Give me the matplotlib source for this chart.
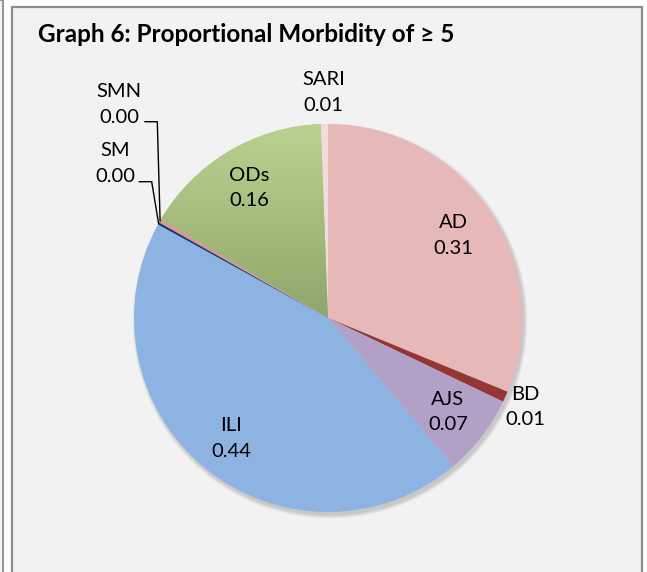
import numpy as np
import matplotlib
matplotlib.use('Agg')
import matplotlib.pyplot as plt
from matplotlib.patches import Rectangle, Circle
from matplotlib.colors import LinearSegmentedColormap

# chart data
categories = ['AD', 'BD', 'AJS', 'ILI', 'SM', 'SMN', 'ODs', 'SARI']
shares = [0.312, 0.009, 0.067, 0.442, 0.002, 0.003, 0.159, 0.006]
colors = ['#E6B9B8', '#943634', '#B2A1C7', '#8DB3E2', '#1B3A6B', '#D99694', '#A7C07F', '#F2DCDB']
title = 'Graph 6: Proportional Morbidity of \u2265 5'

plt.rcParams['font.family'] = ['Lato', 'DejaVu Sans']

W, H = 647, 572
fig = plt.figure(figsize=(W / 100, H / 100), dpi=100, facecolor='white')
ax = fig.add_axes([0, 0, 1, 1])

def Y(y):
    # pixel row (from top) -> data y
    return H - y

# chart box + neighbour strip
ax.add_patch(Rectangle((-10, Y(700)), 13, 700, fc='#F2F2F2', ec='#8C8C8C', lw=1.3, zorder=0))
ax.add_patch(Rectangle((12, Y(700)), 630, 693, fc='#F2F2F2', ec='#8C8C8C', lw=1.6, zorder=0))

ax.text(38, Y(42), title, fontsize=17.5, fontweight='bold', color='black', va='baseline', ha='left')

cx, cy, r = 328, Y(318), 194

# soft shadow
for i in range(8):
    ax.add_patch(Circle((cx + 2, cy - 3), r + 0.5 * i, fc='#7F7F7F', ec='none', alpha=0.05, zorder=1))

wedges, _ = ax.pie(shares, colors=colors, startangle=90, counterclock=False,
                   center=(cx, cy), radius=r, wedgeprops=dict(linewidth=0, zorder=2))
for w in wedges:
    w.set_zorder(2)

# gradient fill on ODs slice
ods = wedges[categories.index('ODs')]
cmap = LinearSegmentedColormap.from_list('ods', ['#8FA66B', '#BAD290'])
grad = np.linspace(0, 1, 256).reshape(-1, 1)
im = ax.imshow(grad, cmap=cmap, extent=[cx - r, cx + r, cy, cy + r], origin='lower',
               aspect='auto', interpolation='bicubic', zorder=2.5)
im.set_clip_path(ods)

LSIZE = 14.5
CAP = LSIZE * 100 / 72 * 0.716
GAP = 12.85

def two_line(x, y, a, b):
    ax.text(x, y + GAP - CAP / 2, a, fontsize=LSIZE, ha='center', va='baseline', color='black', zorder=5)
    ax.text(x, y - GAP - CAP / 2, b, fontsize=LSIZE, ha='center', va='baseline', color='black', zorder=5)

# label placement: fraction of radius along slice middle
place = {'AD': 0.78, 'AJS': 0.78, 'ILI': 0.79, 'ODs': 0.79, 'BD': 1.11, 'SARI': 1.17}
for name, val, w in zip(categories, shares, wedges):
    if name not in place:
        continue
    phi = np.deg2rad((w.theta1 + w.theta2) / 2)
    f = place[name]
    two_line(cx + f * r * np.cos(phi), cy + f * r * np.sin(phi), name, f'{val:.2f}')

# SM / SMN labels with leader lines
def edge_point(name):
    w = wedges[categories.index(name)]
    phi = np.deg2rad((w.theta1 + w.theta2) / 2)
    return cx + r * np.cos(phi), cy + r * np.sin(phi)

i_smn = categories.index('SMN')
i_sm = categories.index('SM')
two_line(119, Y(103), 'SMN', f'{shares[i_smn]:.2f}')
two_line(115.5, Y(162), 'SM', f'{shares[i_sm]:.2f}')

ex, ey = edge_point('SMN')
ax.plot([145, 157.3, ex], [Y(121.7), Y(121.7), ey], color='black', lw=1.0, zorder=4,
        solid_joinstyle='miter')
ex, ey = edge_point('SM')
ax.plot([139.3, 151.7, ex], [Y(181.7), Y(181.7), ey], color='black', lw=1.0, zorder=4,
        solid_joinstyle='miter')

ax.set_xlim(0, W)
ax.set_ylim(0, H)
ax.axis('off')

fig.savefig('out.png', dpi=100, facecolor='white')
